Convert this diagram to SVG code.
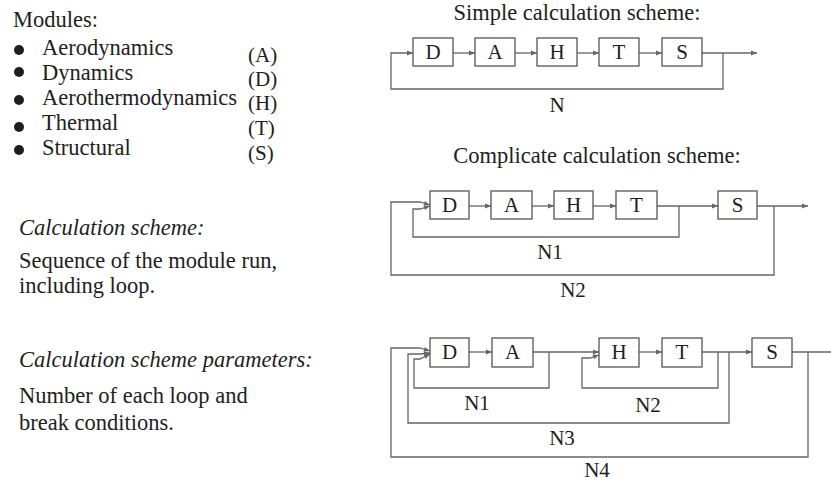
<svg xmlns="http://www.w3.org/2000/svg" width="831" height="482" viewBox="0 0 831 482">
<style>
text{font-family:"Liberation Serif","Times New Roman",serif;fill:#1e1e1e;font-size:22.5px}
.it{font-style:italic}
.lbl{text-anchor:middle}
.n{font-size:21px}
.p{font-size:21px}
.box rect{fill:#fff;stroke:#555;stroke-width:1.3}
.box text{text-anchor:middle;font-size:21px}
.c path{fill:none;stroke:#666;stroke-width:1.3}
.a{marker-end:url(#arr)}
</style>
<defs>
<marker id="arr" viewBox="0 0 10 10" refX="10" refY="5" markerWidth="8" markerHeight="6" markerUnits="userSpaceOnUse" orient="auto">
<path d="M0,1 L10,5 L0,9 Z" fill="#666"/>
</marker>
</defs>
<rect width="831" height="482" fill="#fff"/>

<g id="legend">
<text x="13" y="27">Modules:</text>
<circle cx="19" cy="50" r="5" fill="#1e1e1e"/>
<circle cx="19" cy="72" r="5" fill="#1e1e1e"/>
<circle cx="19" cy="100" r="5" fill="#1e1e1e"/>
<circle cx="19" cy="127" r="5" fill="#1e1e1e"/>
<circle cx="19" cy="150" r="5" fill="#1e1e1e"/>
<text x="42" y="55">Aerodynamics</text>
<text x="42" y="80">Dynamics</text>
<text x="42" y="105">Aerothermodynamics</text>
<text x="42" y="130">Thermal</text>
<text x="42" y="155">Structural</text>
<text class="p" x="248" y="62">(A)</text>
<text class="p" x="248" y="85.5">(D)</text>
<text class="p" x="248" y="110">(H)</text>
<text class="p" x="248" y="135">(T)</text>
<text class="p" x="248" y="160">(S)</text>
</g>

<g id="notes">
<text class="it" x="19" y="235">Calculation scheme:</text>
<text x="19" y="268">Sequence of the module run,</text>
<text x="19" y="293">including loop.</text>
<text class="it" x="19" y="367">Calculation scheme parameters:</text>
<text x="19" y="403">Number of each loop and</text>
<text x="19" y="430">break conditions.</text>
</g>

<g id="titles">
<text class="lbl" x="577" y="19.5" font-size="21" textLength="247" lengthAdjust="spacingAndGlyphs">Simple calculation scheme:</text>
<text class="lbl" x="597" y="163">Complicate calculation scheme:</text>
</g>

<g class="c" id="connectors">
<!-- simple -->
<path class="a" d="M453,53 H475"/>
<path class="a" d="M515,53 H537"/>
<path class="a" d="M577,53 H599"/>
<path class="a" d="M639,53 H662"/>
<path class="a" d="M702,53 H757"/>
<path class="a" d="M723,53 V89 H391 V53 H413"/>
<!-- complicate -->
<path class="a" d="M469,206 H491"/>
<path class="a" d="M532,206 H554"/>
<path class="a" d="M593,206 H616"/>
<path class="a" d="M657,206 H718"/>
<path class="a" d="M757,206 H808"/>
<path class="a" d="M679,206 V237 H413 V209 H420 L430,206"/>
<path class="a" d="M774,206 V275 H391 V202 H420 L430,205"/>
<!-- third -->
<path class="a" d="M469,352 H492"/>
<path class="a" d="M533,352 H599"/>
<path class="a" d="M639,352 H662"/>
<path class="a" d="M702,352 H752"/>
<path d="M792,352 H831"/>
<path class="a" d="M549,352 V388 H414 V359 H420 L430,354"/>
<path class="a" d="M729,352 V423 H408 V354 H420 L430,353"/>
<path class="a" d="M808,352 V457 H391 V348 H420 L430,351"/>
<path class="a" d="M718,352 V388 H582 V358 H590 L599,355"/>
</g>

<g id="loop-labels">
<text class="lbl n" x="557" y="112">N</text>
<text class="lbl n" x="550" y="259">N1</text>
<text class="lbl n" x="573" y="297">N2</text>
<text class="lbl n" x="477" y="410">N1</text>
<text class="lbl n" x="648" y="412">N2</text>
<text class="lbl n" x="562" y="445">N3</text>
<text class="lbl n" x="597" y="477">N4</text>
</g>

<g id="s1-D" class="box"><rect x="413" y="38" width="40" height="28"/><text x="433" y="59">D</text></g>
<g id="s1-A" class="box"><rect x="475" y="38" width="40" height="28"/><text x="495" y="59">A</text></g>
<g id="s1-H" class="box"><rect x="537" y="38" width="40" height="28"/><text x="557" y="59">H</text></g>
<g id="s1-T" class="box"><rect x="599" y="38" width="40" height="28"/><text x="619" y="59">T</text></g>
<g id="s1-S" class="box"><rect x="662" y="38" width="40" height="28"/><text x="682" y="59">S</text></g>

<g id="s2-D" class="box"><rect x="430" y="191" width="39" height="28"/><text x="449.5" y="212">D</text></g>
<g id="s2-A" class="box"><rect x="491" y="191" width="41" height="28"/><text x="511.5" y="212">A</text></g>
<g id="s2-H" class="box"><rect x="554" y="191" width="39" height="28"/><text x="573.5" y="212">H</text></g>
<g id="s2-T" class="box"><rect x="616" y="191" width="41" height="28"/><text x="636.5" y="212">T</text></g>
<g id="s2-S" class="box"><rect x="718" y="191" width="39" height="28"/><text x="737.5" y="212">S</text></g>

<g id="s3-D" class="box"><rect x="430" y="338" width="39" height="29"/><text x="449.5" y="359">D</text></g>
<g id="s3-A" class="box"><rect x="492" y="338" width="41" height="29"/><text x="512.5" y="359">A</text></g>
<g id="s3-H" class="box"><rect x="599" y="338" width="40" height="29"/><text x="619" y="359">H</text></g>
<g id="s3-T" class="box"><rect x="662" y="338" width="40" height="29"/><text x="682" y="359">T</text></g>
<g id="s3-S" class="box"><rect x="752" y="338" width="40" height="29"/><text x="772" y="359">S</text></g>
</svg>
